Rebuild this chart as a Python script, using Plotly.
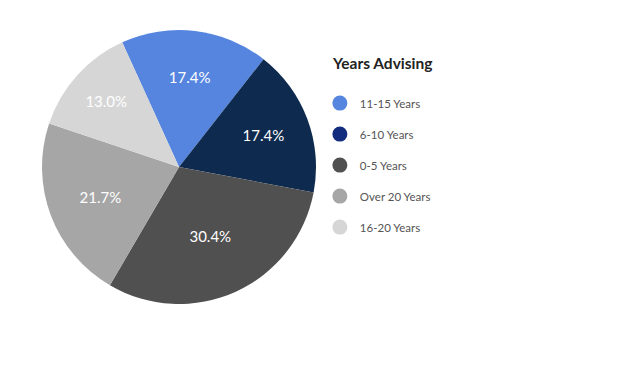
import plotly.graph_objects as go

categories = ["11-15 Years", "6-10 Years", "0-5 Years", "Over 20 Years", "16-20 Years"]
counts = [4, 4, 7, 5, 3]
slice_colors = ["#5585df", "#0e2b4f", "#505050", "#a6a6a6", "#d6d6d6"]
legend_colors = ["#5585df", "#142c7d", "#505050", "#a6a6a6", "#d6d6d6"]
legend_title = "Years Advising"

fig = go.Figure()
fig.add_trace(go.Pie(
    labels=categories, values=counts, sort=False, direction="clockwise",
    rotation=-24.5, marker=dict(colors=slice_colors, line=dict(width=0)),
    textinfo="percent", texttemplate="%{percent:.1%}", textposition="inside",
    insidetextorientation="horizontal",
    textfont=dict(color="white", size=15, family="Lato"),
    showlegend=False, hoverinfo="label+percent",
    domain=dict(x=[0.0531, 0.4813], y=[0.2128, 0.9415]),
))
for i, (name, col) in enumerate(zip(categories, legend_colors)):
    fig.add_trace(go.Scatter(
        x=[None], y=[None], mode="markers", name=name,
        marker=dict(symbol="circle", size=15, color=col),
        legendgroup=f"g{i}", showlegend=True,
    ))

fig.add_annotation(text=f"<b>{legend_title}</b>", xref="paper", yref="paper",
                   x=322/640, y=1-55/376, xanchor="left", yanchor="middle",
                   showarrow=False, font=dict(size=15.5, color="#222222", family="Lato"))

fig.update_layout(
    width=640, height=376, margin=dict(l=0, r=0, t=0, b=0),
    paper_bgcolor="white", plot_bgcolor="white",
    xaxis=dict(visible=False), yaxis=dict(visible=False),
    legend=dict(x=0.4873, y=0.7856, xanchor="left", yanchor="top",
                tracegroupgap=12, font=dict(size=11.5, color="#555555", family="Lato"),
                bgcolor="rgba(0,0,0,0)"),
)
fig.write_html("out.html")
